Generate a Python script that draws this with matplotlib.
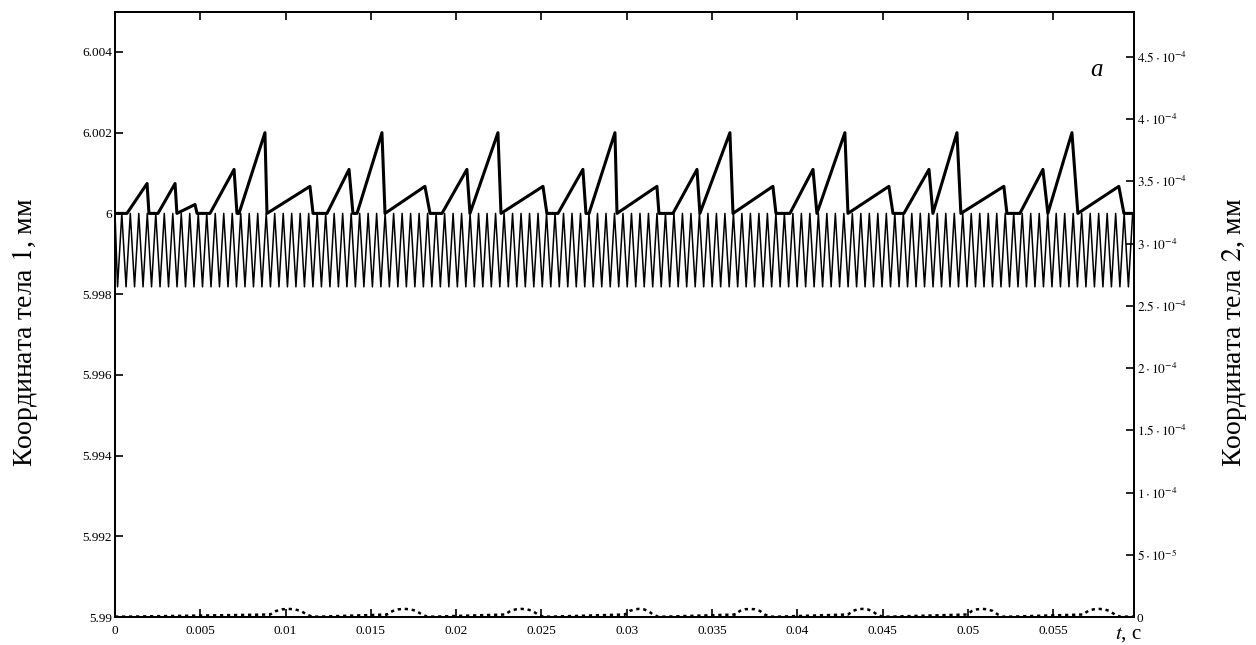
import numpy as np
import matplotlib
matplotlib.use("Agg")
from matplotlib import pyplot as plt

plt.rcParams['font.family'] = ['Liberation Serif', 'DejaVu Serif']
plt.rcParams['mathtext.fontset'] = 'stix'

# Body 1 sawtooth (time s, coordinate mm)
saw_t = [0, 0.00070, 0.00188, 0.00199, 0.00252, 0.00352, 0.00363, 0.00469, 0.00481,
         0.00557, 0.00698, 0.00715, 0.00727, 0.00879, 0.00891, 0.01143, 0.01161,
         0.01243, 0.01372, 0.01395, 0.01419, 0.01565, 0.01583, 0.01817, 0.01847,
         0.01917, 0.02063, 0.02081, 0.02245, 0.02263, 0.02509, 0.02532, 0.02597,
         0.02743, 0.02761, 0.02779, 0.02931, 0.02943, 0.03177, 0.03189, 0.03271,
         0.03412, 0.03429, 0.03605, 0.03623, 0.03857, 0.03875, 0.03957, 0.04092,
         0.04115, 0.04279, 0.04297, 0.04537, 0.04561, 0.04625, 0.04772, 0.04795,
         0.04936, 0.04959, 0.05211, 0.05229, 0.05305, 0.05440, 0.05469, 0.05610,
         0.05645, 0.05885, 0.05915, 0.05974]
saw_y = [6, 6, 6.00074, 6, 6, 6.00074, 6, 6.00022, 6,
         6, 6.00109, 6, 6, 6.0020, 6, 6.00067, 6,
         6, 6.00109, 6, 6, 6.0020, 6, 6.00067, 6,
         6, 6.00109, 6, 6.0020, 6, 6.00067, 6, 6,
         6.00109, 6, 6, 6.0020, 6, 6.00067, 6, 6,
         6.00109, 6, 6.0020, 6, 6.00067, 6, 6, 6.00109,
         6, 6.0020, 6, 6.00067, 6, 6, 6.00109, 6,
         6.0020, 6, 6.00067, 6, 6, 6.00109, 6, 6.0020,
         6, 6.00067, 6, 6]

# Fast oscillation: one cycle, repeated over the record
osc_period = 0.000498
osc_first_trough = 0.00015
osc_top = 6.0
osc_bottom = 5.99818
t_end = 0.05974

# Body 2 (dotted): bumps near zero
bump_start = [0.00909, 0.01594, 0.02286, 0.02990, 0.03634, 0.04297, 0.04994, 0.05674]
bump_end = [0.01125, 0.01800, 0.02480, 0.03154, 0.03810, 0.04467, 0.05176, 0.05862]
bump_height = 6.5e-6
bump_profile = [0.3, 0.75, 0.95, 1.0, 0.95, 0.75, 0.3]
ramp_low = 0.3e-6
ramp_high = 2.0e-6

xticks = [0, 0.005, 0.01, 0.015, 0.02, 0.025, 0.03, 0.035, 0.04, 0.045, 0.05, 0.055]
xlabels = ["0", "0.005", "0.01", "0.015", "0.02", "0.025", "0.03", "0.035", "0.04",
           "0.045", "0.05", "0.055"]
yticks1 = [5.99, 5.992, 5.994, 5.996, 5.998, 6.0, 6.002, 6.004]
ylabels1 = ["5.99", "5.992", "5.994", "5.996", "5.998", "6", "6.002", "6.004"]
yticks2 = [0, 5e-5, 1e-4, 1.5e-4, 2e-4, 2.5e-4, 3e-4, 3.5e-4, 4e-4, 4.5e-4]
ylabels2 = ["0", r"$5\cdot10^{-5}$", r"$1\cdot10^{-4}$", r"$1.5\cdot10^{-4}$",
            r"$2\cdot10^{-4}$", r"$2.5\cdot10^{-4}$", r"$3\cdot10^{-4}$",
            r"$3.5\cdot10^{-4}$", r"$4\cdot10^{-4}$", r"$4.5\cdot10^{-4}$"]

# build the oscillation polyline
osc_t = [0.0]
osc_y = [osc_top]
tt = osc_first_trough
while tt < t_end:
    osc_t.append(tt)
    osc_y.append(osc_bottom)
    if tt + osc_period / 2 < t_end:
        osc_t.append(tt + osc_period / 2)
        osc_y.append(osc_top)
    tt += osc_period

# build the dotted polyline
dot_t = [0.0]
dot_y = [ramp_low]
prev = 0.0
for s, e in zip(bump_start, bump_end):
    dot_t += [prev + 0.0008, s]
    dot_y += [ramp_low, ramp_high]
    n = len(bump_profile)
    for k, p in enumerate(bump_profile):
        dot_t.append(s + (e - s) * k / (n - 1))
        dot_y.append(bump_height * p)
    dot_t.append(e + 0.0003)
    dot_y.append(ramp_low)
    prev = e
dot_t.append(t_end)
dot_y.append(ramp_low)

fig = plt.figure(figsize=(12.56, 6.45), dpi=100)
ax = fig.add_axes([115 / 1256, 28 / 645, (1134 - 115) / 1256, (617 - 12) / 645])
ax2 = ax.twinx()

ax.plot(osc_t, osc_y, color="black", lw=1.1)
ax.plot(saw_t, saw_y, color="black", lw=2.2)
ax2.plot(dot_t, dot_y, color="black", lw=1.8, linestyle=(0, (1.3, 1.5)))

ax.set_xlim(0, t_end)
ax.set_ylim(5.99, 6.00499)
ax2.set_ylim(0, 4.86e-4)

ax.set_xticks(xticks)
ax.set_xticklabels(xlabels, fontsize=9.5)
ax.set_yticks(yticks1)
ax.set_yticklabels(ylabels1, fontsize=9.5)
ax2.set_yticks(yticks2)
ax2.set_yticklabels(ylabels2, fontsize=9.5)

ax.tick_params(axis="x", direction="in", top=True, length=6, width=1.2, pad=6)
ax.tick_params(axis="y", direction="in", length=6, width=1.2, pad=2)
ax2.tick_params(axis="y", direction="in", length=6, width=1.2, pad=2)
for a in (ax, ax2):
    for sp in a.spines.values():
        sp.set_linewidth(1.3)

ax.set_ylabel(r"Координата тела $\mathit{1}$, мм", fontsize=20)
ax2.set_ylabel(r"Координата тела $\mathit{2}$, мм", fontsize=20)
ax.yaxis.set_label_coords(-0.074, 0.47)
ax2.yaxis.set_label_coords(1.084, 0.47)

ax.text(0.0572, 6.0034, "a", fontsize=18, style="italic")
fig.text(1115 / 1256, 6 / 645, r"$\mathit{t}$, с", fontsize=15)

fig.savefig("out.png", dpi=100)
